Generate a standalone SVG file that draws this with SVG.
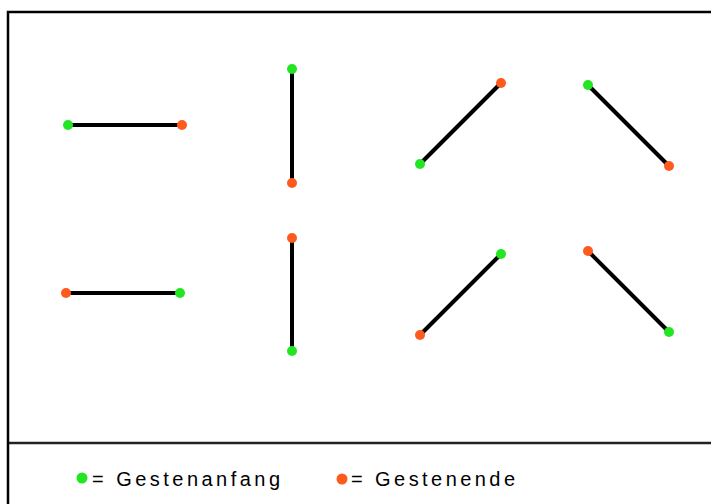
<svg xmlns="http://www.w3.org/2000/svg" width="711" height="504" viewBox="0 0 711 504">
<style>
.ln{stroke:#000;stroke-width:4;fill:none}
.s{fill:#22e622}
.e{fill:#ff5a1e}
.t{font-family:"Liberation Sans",Arial,sans-serif;font-size:20px;fill:#000}
</style>
<rect width="711" height="504" fill="#fff"/>
<g id="frame" fill="none" stroke="#000">
<path d="M8 504 V12 H711" stroke-width="2.5"/>
<line x1="9" y1="443" x2="711" y2="443" stroke="#222" stroke-width="2.5"/>
</g>
<g id="connectors">
<line class="ln" x1="68" y1="125" x2="182" y2="125"/>
<line class="ln" x1="66" y1="293" x2="180" y2="293"/>
<line class="ln" x1="292" y1="69" x2="292" y2="183"/>
<line class="ln" x1="292" y1="238" x2="292" y2="351"/>
<line class="ln" x1="420" y1="164" x2="501" y2="83"/>
<line class="ln" x1="588" y1="85" x2="669" y2="166"/>
<line class="ln" x1="420" y1="335" x2="501" y2="254"/>
<line class="ln" x1="588" y1="251" x2="669" y2="332"/>
</g>
<g id="g1"><circle class="s" cx="68" cy="125" r="5"/><circle class="e" cx="182" cy="125" r="5"/></g>
<g id="g2"><circle class="e" cx="66" cy="293" r="5"/><circle class="s" cx="180" cy="293" r="5"/></g>
<g id="g3"><circle class="s" cx="292" cy="69" r="5"/><circle class="e" cx="292" cy="183" r="5"/></g>
<g id="g4"><circle class="e" cx="292" cy="238" r="5"/><circle class="s" cx="292" cy="351" r="5"/></g>
<g id="g5"><circle class="s" cx="420" cy="164" r="5"/><circle class="e" cx="501" cy="83" r="5"/></g>
<g id="g6"><circle class="s" cx="588" cy="85" r="5"/><circle class="e" cx="669" cy="166" r="5"/></g>
<g id="g7"><circle class="e" cx="420" cy="335" r="5"/><circle class="s" cx="501" cy="254" r="5"/></g>
<g id="g8"><circle class="e" cx="588" cy="251" r="5"/><circle class="s" cx="669" cy="332" r="5"/></g>
<g id="legend-start"><circle class="s" cx="82" cy="478" r="5.5"/><text class="t" x="92" y="486" textLength="188" lengthAdjust="spacing">= Gestenanfang</text></g>
<g id="legend-end"><circle class="e" cx="342" cy="479" r="5.5"/><text class="t" x="351" y="486" textLength="164" lengthAdjust="spacing">= Gestenende</text></g>
</svg>
